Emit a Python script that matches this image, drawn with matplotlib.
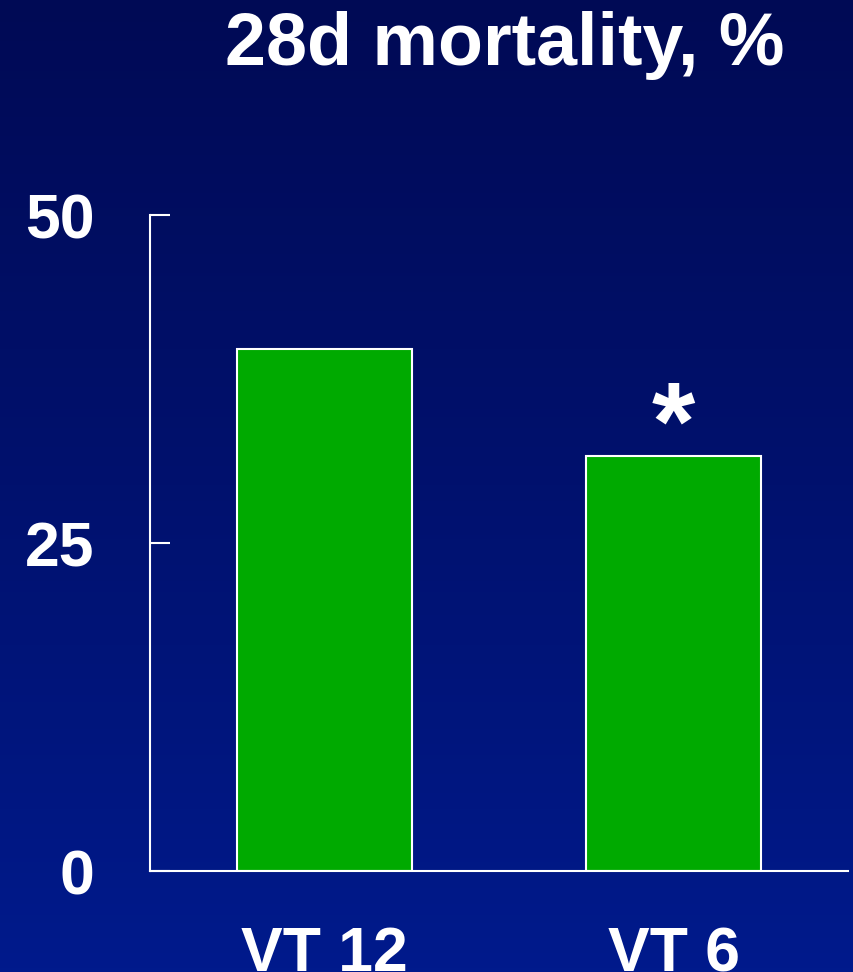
import matplotlib.pyplot as plt
import numpy as np
from matplotlib.colors import LinearSegmentedColormap

plt.rcParams['font.family'] = ['Liberation Sans', 'DejaVu Sans']
plt.rcParams['font.weight'] = 'bold'

groups = ["VT 12", "VT 6"]
mortality = [39.8, 31.6]
significant = [False, True]
yticks = [0, 25, 50]

fig = plt.figure(figsize=(8.54, 9.72), dpi=100)

# dark navy to blue backdrop
bg = fig.add_axes([0, 0, 1, 1], zorder=-1)
cmap = LinearSegmentedColormap.from_list("slide", ["#000A55", "#00116E", "#001A8C"])
bg.imshow(np.linspace(0, 1, 256).reshape(-1, 1), aspect="auto", cmap=cmap,
          extent=[0, 1, 0, 1])
bg.axis("off")

ax = fig.add_axes([0.1756, 0.1039, 0.8174, 0.6749])
ax.set_facecolor("none")

x = np.arange(len(groups))
bars = ax.bar(x, mortality, width=0.5, color="#00AA00", edgecolor="white",
              linewidth=1.5)

for b, star in zip(bars, significant):
    if star:
        ax.annotate("*", (b.get_x() + b.get_width() / 2, b.get_height()),
                    xytext=(0, -19), textcoords="offset points",
                    ha="center", va="bottom", color="white", fontsize=80,
                    fontweight="bold")

ax.set_xlim(-0.5, 1.5)
ax.set_ylim(0, 50)
ax.set_xticks(x)
ax.set_xticklabels(groups)
ax.set_yticks(yticks)

for side in ("top", "right"):
    ax.spines[side].set_visible(False)
for side in ("left", "bottom"):
    ax.spines[side].set_color("white")
    ax.spines[side].set_linewidth(1.5)

ax.tick_params(axis="y", direction="in", length=14.4, width=1.5, color="white",
               labelcolor="white", labelsize=45, pad=40)
ax.tick_params(axis="x", length=0, labelcolor="white", labelsize=45, pad=39)

fig.text(0.591, 0.953, "28d mortality, %", ha="center", va="center",
         color="white", fontsize=53, fontweight="bold")

fig.savefig("out.png", dpi=100)
